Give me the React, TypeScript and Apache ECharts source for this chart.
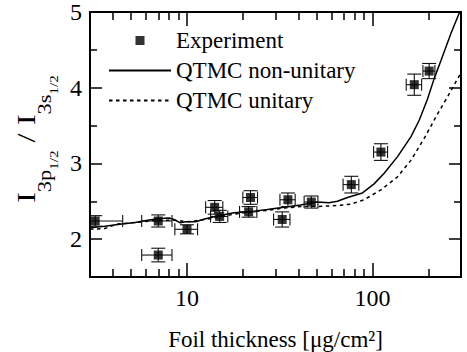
import React, { useEffect, useRef } from 'react';
import * as echarts from 'echarts';

// Experimental data (foil thickness in μg/cm², intensity ratio)
const expThickness = [3.2, 7.0, 7.0, 10.0, 14.1, 15.0, 22.0, 21.5, 32.6, 35.0, 46.8, 76.9, 111, 168, 202];
const expRatio = [2.24, 2.24, 1.79, 2.13, 2.42, 2.30, 2.55, 2.36, 2.26, 2.52, 2.49, 2.72, 3.15, 4.04, 4.22];
const expThicknessErr = [1.3, 1.3, 1.3, 1.4, 1.5, 1.6, 2.0, 2.3, 3.3, 3.3, 4.0, 7.5, 9.6, 16, 15];
const expRatioErr = [0.07, 0.08, 0.09, 0.06, 0.09, 0.08, 0.09, 0.07, 0.1, 0.09, 0.08, 0.11, 0.11, 0.14, 0.1];

// QTMC non-unitary (solid)
const nonUnitaryX = [3.0, 3.6, 4.45, 5.26, 5.8, 6.9, 8.0, 8.5, 9.2, 9.8, 11.1, 12.6, 14.2, 17.9, 22.9, 27.1, 33.3, 40.9, 50.4, 58.2, 64.7, 73.3, 88.3, 102, 115.6, 136.5, 161, 178.6, 198, 215, 234, 265, 295, 300];
const nonUnitaryY = [2.15, 2.17, 2.20, 2.22, 2.24, 2.27, 2.28, 2.26, 2.215, 2.23, 2.23, 2.27, 2.30, 2.35, 2.37, 2.39, 2.42, 2.45, 2.49, 2.48, 2.50, 2.55, 2.61, 2.73, 2.87, 3.09, 3.35, 3.57, 3.85, 4.12, 4.36, 4.72, 5.0, 5.05];

// QTMC unitary (dashed)
const unitaryX = [3.0, 3.6, 4.2, 5.3, 7.0, 8.5, 10, 11, 14, 18, 22, 27, 33, 41, 50, 60, 76, 90, 111, 136, 161, 190, 225, 254, 300];
const unitaryY = [2.13, 2.14, 2.20, 2.22, 2.25, 2.25, 2.23, 2.24, 2.28, 2.33, 2.36, 2.38, 2.41, 2.43, 2.43, 2.44, 2.46, 2.52, 2.65, 2.82, 3.04, 3.33, 3.66, 3.88, 4.20];

// Ticks
const xMajorTicks = [10, 100];
const xMinorTicks = [4, 5, 6, 7, 8, 9, 20, 30, 40, 50, 60, 70, 80, 90, 200];
const yMajorTicks = [2, 3, 4, 5];
const yMinorTicks = [2.5, 3.5, 4.5];

// Y-axis title pieces: [text, fontSize, baseline offset]
const yTitlePieces: [string, number, number][] = [
  ['I', 26, 0],
  ['3p', 18, 16],
  ['1/2', 12, 23],
  [' / I', 26, 0],
  ['3s', 18, 16],
  ['1/2', 12, 23],
];

const FONT = 'Liberation Serif';

export default function App() {
  const ref = useRef<HTMLDivElement>(null);

  useEffect(() => {
    if (!ref.current) return;
    const chart = echarts.init(ref.current, undefined, { renderer: 'svg' });

    const lineCol = '#000';
    const xBase: any = { type: 'log', logBase: 10, min: 3, max: 300, splitLine: { show: false }, gridIndex: 0 };
    const yBase: any = { type: 'value', min: 1.5, max: 5, splitLine: { show: false }, gridIndex: 0 };
    const frameLine = { show: true, onZero: false, lineStyle: { color: lineCol, width: 2 } };
    const noLine = { show: false };
    const tick = (vals: number[], len: number) => ({
      show: true, inside: true, length: len, customValues: vals,
      lineStyle: { color: lineCol, width: 1.5 },
    });

    const errData = expThickness.map((x, i) => [
      x, expRatio[i],
      x - expThicknessErr[i], x + expThicknessErr[i],
      expRatio[i] - expRatioErr[i], expRatio[i] + expRatioErr[i],
    ]);

    // build rotated y title
    const ctx = document.createElement('canvas').getContext('2d')!;
    let u = 0;
    const titleChildren: any[] = yTitlePieces.map(([txt, fs, off]) => {
      ctx.font = `${fs}px "${FONT}"`;
      const w = ctx.measureText(txt).width;
      const el = {
        type: 'text',
        x: u,
        y: off - 0.3375 * fs,
        style: {
          text: txt,
          fill: '#000',
          font: `${fs}px "${FONT}"`,
          textAlign: 'left',
          textVerticalAlign: 'middle',
          align: 'left',
          verticalAlign: 'middle',
        },
      };
      u += w;
      return el;
    });

    chart.setOption({
      animation: false,
      backgroundColor: '#fff',
      textStyle: { fontFamily: FONT, color: '#000' },
      grid: { left: 90, right: 6, top: 12, bottom: 75, containLabel: false, outerBoundsMode: 'none' },
      legend: {
        orient: 'vertical',
        left: 103,
        top: 24,
        itemWidth: 62,
        itemHeight: 9,
        itemGap: 7,
        selectedMode: false,
        textStyle: { fontFamily: FONT, fontSize: 23, color: '#000' },
        data: [
          { name: 'Experiment', icon: 'path://M0 0H10V10H0Z' },
          { name: 'QTMC non-unitary', itemStyle: { opacity: 0 } },
          { name: 'QTMC unitary', itemStyle: { opacity: 0 } },
        ],
      },
      xAxis: [
        {
          ...xBase, position: 'bottom',
          axisLine: frameLine, axisTick: tick(xMajorTicks, 14),
          axisLabel: { show: true, customValues: xMajorTicks, fontFamily: FONT, fontSize: 24, color: '#000', margin: 9 },
          name: 'Foil thickness [μg/cm²]', nameLocation: 'middle', nameGap: 51,
          nameTextStyle: { fontFamily: FONT, fontSize: 23, color: '#000' },
        },
        { ...xBase, position: 'bottom', axisLine: noLine, axisTick: tick(xMinorTicks, 8), axisLabel: { show: false } },
        { ...xBase, position: 'top', axisLine: frameLine, axisTick: tick(xMajorTicks, 14), axisLabel: { show: false } },
        { ...xBase, position: 'top', axisLine: noLine, axisTick: tick(xMinorTicks, 8), axisLabel: { show: false } },
      ],
      yAxis: [
        {
          ...yBase, position: 'left',
          axisLine: frameLine, axisTick: tick(yMajorTicks, 12),
          axisLabel: { show: true, customValues: yMajorTicks, fontFamily: FONT, fontSize: 24, color: '#000', margin: 8 },
        },
        { ...yBase, position: 'left', axisLine: noLine, axisTick: tick(yMinorTicks, 7), axisLabel: { show: false } },
        { ...yBase, position: 'right', axisLine: frameLine, axisTick: tick(yMajorTicks, 12), axisLabel: { show: false } },
        { ...yBase, position: 'right', axisLine: noLine, axisTick: tick(yMinorTicks, 7), axisLabel: { show: false } },
      ],
      graphic: [
        {
          type: 'group',
          x: 35,
          y: 203,
          rotation: Math.PI / 2,
          scaleX: 1.25,
          silent: true,
          children: titleChildren,
        },
      ],
      series: [
        {
          type: 'custom',
          name: 'error bars',
          xAxisIndex: 0,
          yAxisIndex: 0,
          clip: true,
          z: 3,
          data: errData,
          encode: { x: 0, y: 1 },
          renderItem: (params: any, api: any) => {
            const x = api.value(0);
            const y = api.value(1);
            const c = api.coord([x, y]);
            const l = api.coord([api.value(2), y]);
            const r = api.coord([api.value(3), y]);
            const b = api.coord([x, api.value(4)]);
            const t = api.coord([x, api.value(5)]);
            const capH = 6;
            const capV = 7;
            const style = { stroke: '#111', lineWidth: 1.1 };
            const ln = (x1: number, y1: number, x2: number, y2: number) => ({
              type: 'line', shape: { x1, y1, x2, y2 }, style,
            });
            return {
              type: 'group',
              children: [
                ln(l[0], c[1], r[0], c[1]),
                ln(l[0], c[1] - capH, l[0], c[1] + capH),
                ln(r[0], c[1] - capH, r[0], c[1] + capH),
                ln(c[0], b[1], c[0], t[1]),
                ln(c[0] - capV, b[1], c[0] + capV, b[1]),
                ln(c[0] - capV, t[1], c[0] + capV, t[1]),
              ],
            };
          },
        },
        {
          type: 'line',
          name: 'QTMC non-unitary',
          xAxisIndex: 0,
          yAxisIndex: 0,
          showSymbol: false,
          symbol: 'none',
          clip: true,
          z: 2,
          lineStyle: { color: '#000', width: 1.5, type: 'solid' },
          itemStyle: { color: '#000' },
          data: nonUnitaryX.map((x, i) => [x, nonUnitaryY[i]]),
        },
        {
          type: 'line',
          name: 'QTMC unitary',
          xAxisIndex: 0,
          yAxisIndex: 0,
          showSymbol: false,
          symbol: 'none',
          clip: true,
          z: 2,
          lineStyle: { color: '#000', width: 1.5, type: [3.5, 3.5] },
          itemStyle: { color: '#000' },
          data: unitaryX.map((x, i) => [x, unitaryY[i]]),
        },
        {
          type: 'scatter',
          name: 'Experiment',
          xAxisIndex: 0,
          yAxisIndex: 0,
          symbol: 'rect',
          symbolSize: 9,
          z: 4,
          itemStyle: { color: '#000' },
          data: expThickness.map((x, i) => [x, expRatio[i]]),
        },
      ],
    });

    return () => chart.dispose();
  }, []);

  return (
    <div
      ref={ref}
      style={{ position: 'fixed', left: 0, top: 0, width: 467, height: 352, background: '#fff' }}
    />
  );
}
